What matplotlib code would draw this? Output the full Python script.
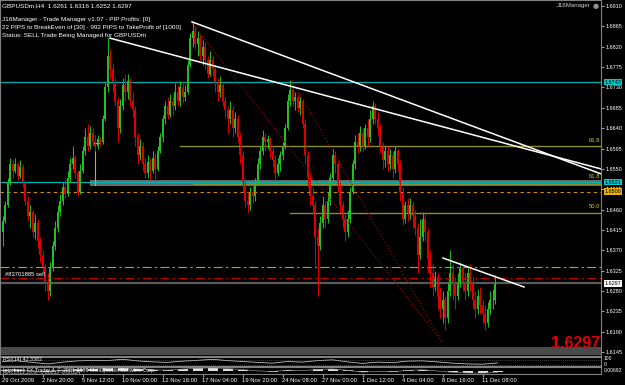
import numpy as np
import matplotlib.pyplot as plt

# GBPUSD H4 candles, prices stored as pips above 1.6000
open0 = 410
close_pips = [435, 470, 520, 560, 545, 560, 535, 555, 520, 480,
              445, 455, 410, 430, 390, 360, 330, 300, 280, 330,
              380, 420, 455, 480, 510, 495, 530, 560, 575, 540,
              500, 545, 590, 620, 600, 630, 610, 600, 615, 610,
              660, 730, 800, 770, 740, 700, 640, 690, 735, 720,
              745, 700, 680, 620, 580, 600, 560, 540, 565, 545,
              575, 550, 590, 620, 660, 690, 670, 700, 690, 720,
              700, 730, 710, 720, 780, 840, 855, 825, 840, 800,
              820, 790, 760, 790, 770, 740, 720, 735, 700, 680,
              660, 680, 640, 660, 620, 580, 520, 480, 470, 500,
              490, 520, 560, 590, 620, 610, 615, 590, 570, 540,
              560, 580, 600, 640, 700, 725, 700, 710, 685, 700,
              650, 580, 530, 490, 470, 400, 380, 430, 470, 440,
              480, 530, 580, 560, 510, 470, 440, 410, 440, 500,
              560, 610, 600, 630, 600, 640, 620, 660, 690, 660,
              640, 600, 570, 590, 560, 580, 550, 590, 560, 500,
              440, 470, 450, 470, 445, 420, 360, 400, 440, 410,
              350, 320, 290, 310, 270, 240, 260, 220, 280, 320,
              300, 270, 300, 330, 300, 280, 320, 300, 260, 240,
              270, 250, 230, 210, 240, 260, 261, 297]
high_pips = [445, 480, 530, 575, 570, 575, 565, 570, 560, 525,
             490, 470, 460, 450, 440, 400, 370, 340, 320, 345,
             390, 435, 470, 495, 520, 530, 545, 575, 600, 580,
             545, 560, 600, 640, 650, 645, 640, 625, 625, 620,
             670, 740, 840, 815, 785, 750, 710, 705, 750, 760,
             760, 750, 720, 690, 630, 615, 610, 575, 580, 575,
             590, 585, 600, 630, 670, 700, 710, 715, 710, 740,
             735, 745, 740, 735, 790, 850, 875, 865, 855, 845,
             835, 830, 800, 810, 800, 780, 750, 755, 740, 710,
             690, 700, 690, 675, 670, 630, 590, 530, 500, 510,
             515, 530, 575, 600, 635, 630, 625, 620, 600, 580,
             575, 590, 610, 650, 715, 746, 735, 720, 715, 710,
             705, 660, 590, 540, 510, 480, 420, 445, 490, 480,
             500, 540, 595, 590, 570, 520, 480, 450, 460, 510,
             570, 625, 630, 645, 640, 650, 660, 680, 700, 695,
             675, 650, 610, 600, 600, 595, 590, 600, 595, 570,
             510, 480, 485, 485, 480, 460, 430, 440, 455, 450,
             420, 370, 340, 325, 320, 290, 280, 270, 300, 370,
             340, 310, 320, 345, 340, 320, 335, 340, 310, 280,
             285, 290, 260, 250, 255, 280, 285, 316]
low_pips = [380, 430, 465, 515, 530, 540, 525, 530, 510, 470,
            435, 420, 400, 395, 375, 345, 320, 280, 260, 270,
            325, 370, 410, 445, 470, 485, 490, 520, 550, 530,
            490, 495, 540, 580, 590, 595, 600, 590, 595, 600,
            605, 655, 720, 750, 720, 690, 610, 630, 680, 700,
            705, 690, 665, 600, 560, 570, 545, 530, 530, 525,
            540, 525, 545, 585, 610, 650, 660, 665, 670, 680,
            690, 690, 695, 700, 715, 775, 820, 815, 800, 790,
            780, 770, 750, 755, 755, 720, 700, 710, 690, 665,
            630, 650, 620, 630, 610, 560, 500, 465, 455, 460,
            475, 480, 515, 550, 580, 590, 595, 575, 555, 525,
            535, 545, 570, 595, 635, 690, 690, 680, 675, 670,
            640, 560, 510, 470, 450, 330, 270, 370, 420, 420,
            430, 470, 520, 540, 500, 455, 420, 390, 400, 430,
            495, 550, 585, 590, 590, 595, 600, 610, 650, 650,
            625, 585, 550, 555, 545, 550, 530, 540, 545, 480,
            425, 430, 435, 440, 420, 405, 320, 350, 390, 390,
            320, 290, 270, 280, 240, 220, 210, 194, 210, 270,
            260, 240, 260, 290, 280, 260, 270, 280, 240, 220,
            230, 230, 210, 195, 200, 230, 240, 252]

date_labels = ['29 Oct 2009', '2 Nov 20:00', '5 Nov 12:00', '10 Nov 00:00',
               '12 Nov 16:00', '17 Nov 04:00', '19 Nov 20:00', '24 Nov 08:00',
               '27 Nov 00:00', '1 Dec 12:00', '4 Dec 04:00', '8 Dec 16:00',
               '11 Dec 08:00']
price_ticks = ['1.6145', '1.6190', '1.6235', '1.6280', '1.6325', '1.6370',
               '1.6415', '1.6460', '1.6505', '1.6550', '1.6595', '1.6640',
               '1.6685', '1.6730', '1.6775', '1.6820', '1.6865', '1.6910']

# indicator samples, one every 6 bars
rsi_vals = [55, 60, 48, 36, 50, 60, 63, 62, 72, 60, 52, 48, 58, 64, 72, 62, 55,
            48, 42, 55, 50, 62, 68, 52, 40, 50, 46, 58, 60, 52, 42, 36, 34, 44]
macd_vals = [0.2, 0.5, -0.3, -0.8, 0.1, 0.6, 0.9, 1.2, 1.5, 1.0, 0.4, 0.2, 0.8,
             1.2, 1.6, 1.1, 0.5, -0.2, -0.6, 0.2, -0.1, 0.6, 0.9, 0.1, -0.9,
             -0.5, -0.7, 0.1, 0.4, -0.3, -1.0, -1.4, -1.5, -1.1]

# drawing objects (bar index, price)
trend_a = ([43, 239.4], [1.6839, 1.6550])
trend_b = ([75.8, 239.4], [1.6875, 1.6539])
trend_c = ([176.2, 208.6], [1.6353, 1.6289])
dotted_1 = ([75.8, 176.2], [1.6872, 1.6165])
dotted_2 = ([115.8, 176.2], [1.6746, 1.6165])

to_price = lambda v: 1.6 + np.asarray(v) / 10000.0
c = to_price(close_pips)
h = to_price(high_pips)
l = to_price(low_pips)
o = to_price([open0] + close_pips[:-1])
idx = np.arange(len(c))

W, H = 625, 385
def rect(x0, y0, x1, y1):
    return [x0 / W, (H - y1) / H, (x1 - x0) / W, (y1 - y0) / H]

sans = ['Liberation Sans', 'DejaVu Sans']
fig = plt.figure(figsize=(6.25, 3.85), dpi=100, facecolor='black')
ax = fig.add_axes(rect(0, 0, 601, 356), facecolor='black')
rsi_ax = fig.add_axes(rect(0, 357, 601, 366), facecolor='black')
macd_ax = fig.add_axes(rect(0, 367, 601, 374), facecolor='black')
for a in (ax, rsi_ax, macd_ax):
    a.set_xlim(-1, 239.4)
    for s in a.spines.values():
        s.set_color('#808080')
        s.set_linewidth(0.8)

ax.set_ylim(1.61365, 1.69233)
bright = ax.get_yaxis_transform()

# horizontal objects
ax.axhline(1.6742, color='#00a8a8', lw=0.9)
ax.axhspan(1.6512, 1.6525, xmin=36 / 240.4, color='#6a6a6a', lw=0)
ax.axhline(1.6521, color='#00b4b4', lw=0.9)
ax.axhline(1.6500, color='#d09000', lw=0.8, ls=(0, (3, 3)))
ax.axhline(1.6333, color='#c8a000', lw=0.8, ls=(0, (8, 3, 2, 3)))
ax.axhline(1.6309, color='#c00000', lw=0.8, ls=(0, (8, 3, 2, 3)))
ax.axhline(1.6297, color='#5a5a5a', lw=1.6)
ax.axhspan(1.6139, 1.6156, color='#4a4a4a', lw=0)
ax.plot([71, 239.4], [1.6601, 1.6601], color='#8c8c28', lw=1)
ax.plot([76, 239.4], [1.6516, 1.6516], color='#8c8c28', lw=1)
ax.plot([115, 239.4], [1.6453, 1.6453], color='#8c8c28', lw=1)
ax.plot([37, 37], [1.6514, 1.6607], color='#c8b400', lw=0.8)
ax.plot([36, 38.5], [1.6607, 1.6607], color='#c8b400', lw=0.8)

# candles
bull = c >= o
cols = np.where(bull, '#22c022', '#e00000')
ax.vlines(idx, l, h, colors=cols, lw=0.7)
ax.bar(idx, np.maximum(np.abs(c - o), 0.00005), bottom=np.minimum(o, c),
       width=0.75, color=cols, lw=0)

# trend lines
ax.plot(*dotted_1, color='#b00000', lw=0.8, ls=(0, (1, 2)))
ax.plot(*dotted_2, color='#b00000', lw=0.8, ls=(0, (1, 2)))
ax.plot(*trend_a, color='white', lw=1.1)
ax.plot(*trend_b, color='white', lw=1.1)
ax.plot(*trend_c, color='white', lw=1.1)

# price scale on the right
ax.yaxis.tick_right()
ax.set_yticks([float(t) for t in price_ticks])
ax.set_yticklabels(price_ticks, family=sans, fontsize=4, color='white')
ax.tick_params(axis='y', colors='#a0a0a0', length=2, pad=1.2, labelcolor='white')
ax.set_xticks([])
for price, txt, bg in [(1.6742, '1.6742', '#00c8c8'), (1.6521, '1.6521', '#00c8c8'),
                       (1.6500, '1.6500', '#e8b000'), (1.6297, '1.6297', 'white')]:
    ax.text(1.0055, price, txt, transform=bright, fontsize=4, family=sans,
            color='black', va='center', ha='left',
            bbox=dict(facecolor=bg, edgecolor='none', pad=0.5))

for y, txt in [(1.6608, '61.8'), (1.6528, '61.8'), (1.6461, '50.0')]:
    ax.text(0.998, y, txt, transform=bright, fontsize=4.2, family=sans,
            color='#c8c832', ha='right', va='bottom')
ax.text(0.008, 1.6312, '#83701885 sell', transform=bright, fontsize=4.2,
        family=sans, color='white', va='bottom')

# header texts
for y, txt in [(6, 'GBPUSDm,H4  1.6261 1.6316 1.6252 1.6297'),
               (19, 'J16Manager - Trade Manager v1.07 - PIP Profits: [0]'),
               (27, '22 PIPS to BreakEven of [30] - 992 PIPS to TakeProfit of [1000]'),
               (35, 'Status: SELL Trade Being Managed for GBPUSDm')]:
    fig.text(2 / W, 1 - y / H, txt, fontsize=4.6, family=sans,
             color='white', va='center')
fig.text(591 / W, 1 - 6 / H, 'J16Manager', fontsize=4.4, family=sans,
         color='#d0d0d0', va='center', ha='right')
fig.text(596 / W, 1 - 6 / H, '\u25cf', fontsize=5, color='#909090', va='center', ha='center')
fig.text(600 / W, 1 - 344 / H, '1.6297', fontsize=11.5, weight='bold',
         family=sans, color='#e00000', ha='right', va='center')

# RSI panel
samp = np.arange(0, 6 * len(rsi_vals), 6)
rsi_ax.plot(samp, rsi_vals, color='#c0c0c0', lw=0.6)
rsi_ax.axhline(70, color='#808080', lw=0.5, ls=(0, (1, 2)))
rsi_ax.axhline(30, color='#808080', lw=0.5, ls=(0, (1, 2)))
rsi_ax.set_ylim(20, 90)
rsi_ax.set_xticks([])
rsi_ax.set_yticks([])
rsi_ax.text(0.005, 0.95, 'RSI(14) 42.3382', transform=rsi_ax.transAxes, fontsize=3.8,
            family=sans, color='white', va='top')
fig.text(604 / W, 1 - 359 / H, '100', fontsize=3.6, family=sans, color='white', va='center')
fig.text(604 / W, 1 - 365 / H, '0', fontsize=3.6, family=sans, color='white', va='center')

# MACD panel
macd_ax.bar(samp, macd_vals, width=4, color='#e0e0e0', lw=0)
macd_ax.plot(samp, macd_vals, color='#909090', lw=0.5)
macd_ax.set_ylim(-2, 2)
macd_ax.set_yticks([])
macd_ax.text(0.005, 1.0, 'Interbank FX Trader 4, \u00a9 2001-2009 MetaQuotes Software Corp.',
             transform=macd_ax.transAxes, fontsize=3.8, family=sans, color='white', va='top')
macd_ax.text(0.005, 0.2, 'MACD(12,26,9) -0.00253 -0.00324',
             transform=macd_ax.transAxes, fontsize=3.6, family=sans, color='#d0d0d0', va='center')
fig.text(604 / W, 1 - 371 / H, '0.00692', fontsize=3.6, family=sans, color='white', va='center')
macd_ax.set_xticks(np.arange(0, 16 * len(date_labels), 16))
macd_ax.set_xticklabels(date_labels, family=sans, fontsize=4.2, color='white', ha='left')
macd_ax.tick_params(axis='x', colors='#a0a0a0', length=2, pad=1, labelcolor='white')

fig.savefig('out.png', dpi=100, facecolor='black')
